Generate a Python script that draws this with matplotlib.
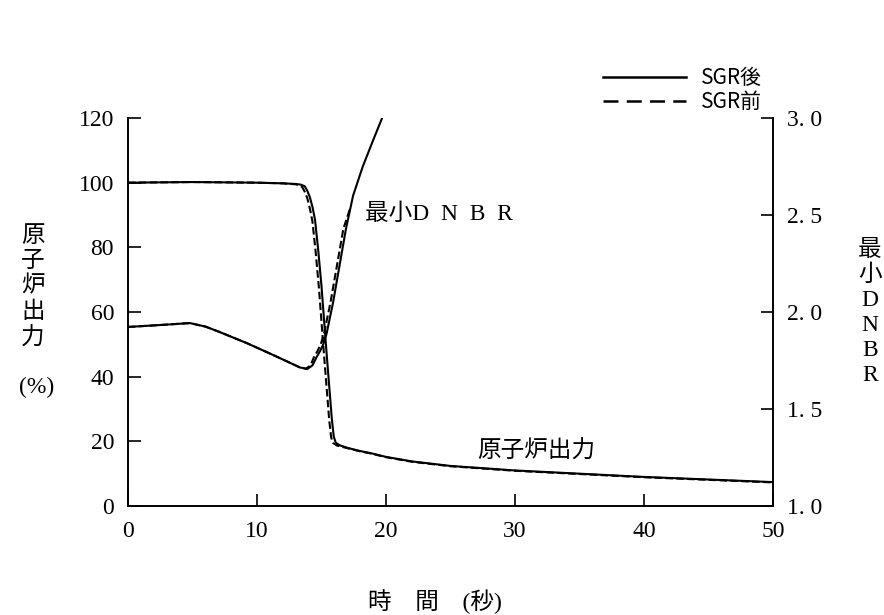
import matplotlib
matplotlib.use('Agg')
import matplotlib.pyplot as plt
from matplotlib.lines import Line2D

# ------------------------------------ データ ------------------------------------
# 原子炉出力 (%) SGR後
t_pow_after = [0, 5, 10, 12, 13, 13.4, 13.7, 13.9, 14.1, 14.3, 14.5, 14.75, 15.0,
               15.2, 15.4, 15.6, 15.8, 15.95, 16.1, 16.4, 17, 18, 18.76, 20, 22,
               25, 30, 35, 40, 45, 50]
pow_after = [100, 100.2, 100, 99.8, 99.6, 99.4, 98.9, 97.5, 95.5, 92.5, 88.5, 79, 68,
             57.5, 47, 37, 27, 21.5, 19.6, 18.8, 18.0, 17.0, 16.4, 15.2, 13.8,
             12.4, 11.0, 10.0, 9.0, 8.2, 7.4]
# 原子炉出力 (%) SGR前
t_pow_before = [0, 5, 10, 12, 13, 13.2, 13.5, 13.7, 13.9, 14.1, 14.3, 14.55, 14.8,
                15.0, 15.2, 15.4, 15.6, 15.75, 15.9, 16.2, 17, 18, 18.76, 20, 22,
                25, 30, 35, 40, 45, 50]
pow_before = [100, 100.2, 100, 99.8, 99.5, 99.3, 98.7, 97.2, 95.2, 92, 88, 78.5, 67.5,
              57, 46.5, 36.5, 26.5, 21.2, 19.5, 18.7, 17.9, 16.9, 16.3, 15.1, 13.7,
              12.3, 10.9, 9.9, 8.9, 8.1, 7.3]
# 最小DNBR SGR後
t_dnbr_after = [0, 2.5, 4.8, 6, 7.1, 9.2, 11.2, 12.5, 13.3, 13.9, 14.3, 14.6, 14.9,
                15.15, 15.4, 15.9, 16.4, 16.9, 17.45, 18.2, 19.0, 19.7]
dnbr_after = [1.923, 1.933, 1.943, 1.925, 1.897, 1.84, 1.78, 1.74, 1.715, 1.706, 1.725,
              1.765, 1.80, 1.835, 1.89, 2.05, 2.24, 2.43, 2.60, 2.75, 2.885, 3.0]
# 最小DNBR SGR前
t_dnbr_before = [0, 2.5, 4.8, 6, 7.1, 9.2, 11.2, 12.5, 13.3, 13.8, 14.15, 14.4, 14.7,
                 14.95, 15.2, 15.7, 16.2, 16.7, 17.2]
dnbr_before = [1.923, 1.933, 1.943, 1.925, 1.897, 1.84, 1.78, 1.74, 1.715, 1.708, 1.725,
               1.765, 1.80, 1.835, 1.89, 2.05, 2.24, 2.43, 2.53]

x_ticks = [0, 10, 20, 30, 40, 50]
pow_ticks = [0, 20, 40, 60, 80, 100, 120]
dnbr_ticks = [1.0, 1.5, 2.0, 2.5, 3.0]
dnbr_tick_labels = ['1. 0', '1. 5', '2. 0', '2. 5', '3. 0']
# -------------------------------------------------------------------------------

SERIF = ['Liberation Serif', 'Noto Sans CJK JP']
JP = ['Noto Sans CJK JP', 'DejaVu Sans']
plt.rcParams['font.family'] = SERIF

DASH = (0, (3.6, 1.6))

fig = plt.figure(figsize=(8.84, 6.15), dpi=100)
ax = fig.add_axes([0.1448, 0.1772, 0.7296, 0.6309])
ax2 = ax.twinx()

ax.plot(t_pow_after, pow_after, color='black', lw=1.5)
ax.plot(t_pow_before, pow_before, color='black', lw=1.5, linestyle=DASH)
ax2.plot(t_dnbr_after, dnbr_after, color='black', lw=1.5)
ax2.plot(t_dnbr_before, dnbr_before, color='black', lw=1.5, linestyle=DASH)

ax.set_xlim(0, 50)
ax.set_ylim(0, 120)
ax2.set_ylim(1.0, 3.0)
ax.set_xticks(x_ticks)
ax.set_yticks(pow_ticks)
ax2.set_yticks(dnbr_ticks)
ax2.set_yticklabels(dnbr_tick_labels)

for a in (ax, ax2):
    a.spines['top'].set_visible(False)
    for s in a.spines.values():
        s.set_linewidth(1.2)
ax.tick_params(axis='y', direction='in', length=9, width=1.2, labelsize=17, pad=10)
ax.tick_params(axis='x', direction='in', length=9, width=1.2, labelsize=17, pad=11)
ax2.tick_params(direction='in', length=9, width=1.2, labelsize=17, pad=10)

# 曲線ラベル
ax.text(18.4, 90.3, '最小D  N  B  R', fontsize=17, va='center', ha='left', family=SERIF)
ax.text(27.1, 16.7, '原子炉出力', fontsize=17, va='center', ha='left', family=SERIF)

# 軸ラベル
fig.text(33 / 884, 1 - 288 / 615, '原\n子\n炉\n出\n力', fontsize=17, ha='center',
         va='center', linespacing=1.25, family=SERIF)
fig.text(37 / 884, 1 - 387 / 615, '(%)', fontsize=17, ha='center', va='center', family=SERIF)
fig.text(870 / 884, 1 - 313 / 615, '最\n小\nD\nN\nB\nR', fontsize=17, ha='center',
         va='center', linespacing=1.25, multialignment='center', family=SERIF)
fig.text(435 / 884, 1 - 602 / 615, '時　間　(秒)', fontsize=17, ha='center',
         va='center', family=SERIF)

# 凡例
handles = [Line2D([], [], color='black', lw=1.8),
           Line2D([], [], color='black', lw=1.8, linestyle=(0, (6, 3.3)))]
leg = ax.legend(handles, ['SGR後', 'SGR前'], loc='lower left',
                bbox_to_anchor=(603 / 884, 1 - 113 / 615), bbox_transform=fig.transFigure,
                frameon=False, handlelength=4.0, handletextpad=0.7, labelspacing=0.1,
                borderpad=0, borderaxespad=0, prop={'family': JP, 'size': 15})

fig.savefig('out.png', dpi=100)
